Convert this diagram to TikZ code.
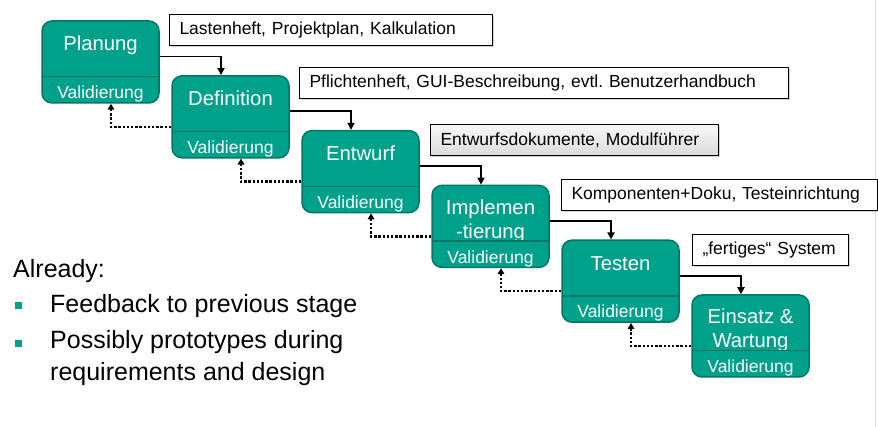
\documentclass[tikz,border=0pt]{standalone}
\usepackage{fontspec}
\setmainfont{Liberation Sans}
\frenchspacing
\usetikzlibrary{calc,shadows,arrows.meta}
\definecolor{tfill}{RGB}{0,161,139}
\definecolor{tline}{RGB}{0,118,102}
\tikzset{
 stage/.style={draw=tline, line width=1.5pt, fill=tfill, rounded corners=10pt, minimum width=117pt, minimum height=82pt, inner sep=0pt},
 ttl/.style={text=white, font=\fontsize{20.3}{24}\selectfont, anchor=base, inner sep=0pt, align=center},
 val/.style={text=white, font=\fontsize{17.5}{20}\selectfont, anchor=base, inner sep=0pt},
 note/.style={draw=black, line width=1pt, fill=white, anchor=north west, minimum height=31pt, inner xsep=10pt, inner ysep=0pt, align=left, font=\fontsize{17.5}{20}\selectfont, drop shadow={shadow xshift=1.5pt, shadow yshift=-1.5pt, opacity=0.35, fill=gray}},
 flow/.style={line width=1.8pt, -{Triangle[length=7pt,width=7pt]}},
 fb/.style={line width=2.4pt, dash pattern=on 2.4pt off 1.8pt, -{Triangle[length=6pt,width=6.5pt]}},
 ltxt/.style={anchor=base west, inner sep=0pt, font=\fontsize{25}{32}\selectfont},
 bul/.style={fill=tfill, minimum size=7pt, inner sep=0pt},
}
\begin{document}
\begin{tikzpicture}[x=1pt,y=-1pt]
\useasboundingbox (0,0) rectangle (878,427);
\draw[gray!30, line width=1pt] (875,0) -- (875,427);

% stages
\foreach \k/\nm/\tx/\by in {1/s1/{Planung}/30,2/s2/{Definition}/30,3/s3/{Entwurf}/30,4/s4/{Implemen\\-tierung}/53,5/s5/{Testen}/30,6/s6/{Einsatz \&\\Wartung}/53}{
  \pgfmathsetmacro{\lx}{42+130*(\k-1)}
  \pgfmathsetmacro{\ty}{21+54.8*(\k-1)}
  \node[stage] (\nm) at (\lx+58.5,\ty+41) {};
  \node[ttl] (\nm t) at (\lx+58.5,\ty+\by) {\tx};
  \fill[tfill] ($(\nm.south west)+(1.5,-27)$) rectangle ($(\nm.south east)+(-1.5,-16)$);
  \draw[tline, line width=1.5pt] ($(\nm.south west)+(0.5,-27)$) -- ($(\nm.south east)+(-0.5,-27)$);
  \node[val] (\nm v) at ($(\nm.south)+(0,-5)$) {Validierung};
}

% notes
\node[note, text width=303pt] (n1) at (169,14) {Lastenheft, Projektplan, Kalkulation};
\node[note, text width=469pt] (n2) at (299,67) {Pflichtenheft, GUI-Beschreibung, evtl. Benutzerhandbuch};
\node[note, text width=268pt, top color=gray!6, bottom color=gray!28] (n3) at (430,124) {Entwurfsdokumente, Modulführer};
\node[note, text width=296pt] (n4) at (561,179) {Komponenten+Doku, Testeinrichtung};
\node[note, text width=136pt] (n5) at (692,234) {„fertiges“ System};

% forward arrows
\foreach \a/\b in {s1/s2,s2/s3,s3/s4,s4/s5,s5/s6}{
  \draw[flow] ($(\a.east)+(0,-5.5)$) -| ($(\b.north)+(-9.5,0)$);
  \draw[fb] ($(\b.west)+(0,10)$) -| ($(\a.south)+(10.5,0)$);
}

% left text
\node[ltxt] (al) at (13,278) {Already:};
\node[bul] (b1) at (18.5,305.5) {};
\node[ltxt] (t1) at (50,313) {Feedback to previous stage};
\node[bul] (b2) at (18.5,344) {};
\node[ltxt, align=left] (t2) at (50,381) {Possibly prototypes during\\requirements and design};
\end{tikzpicture}
\end{document}
